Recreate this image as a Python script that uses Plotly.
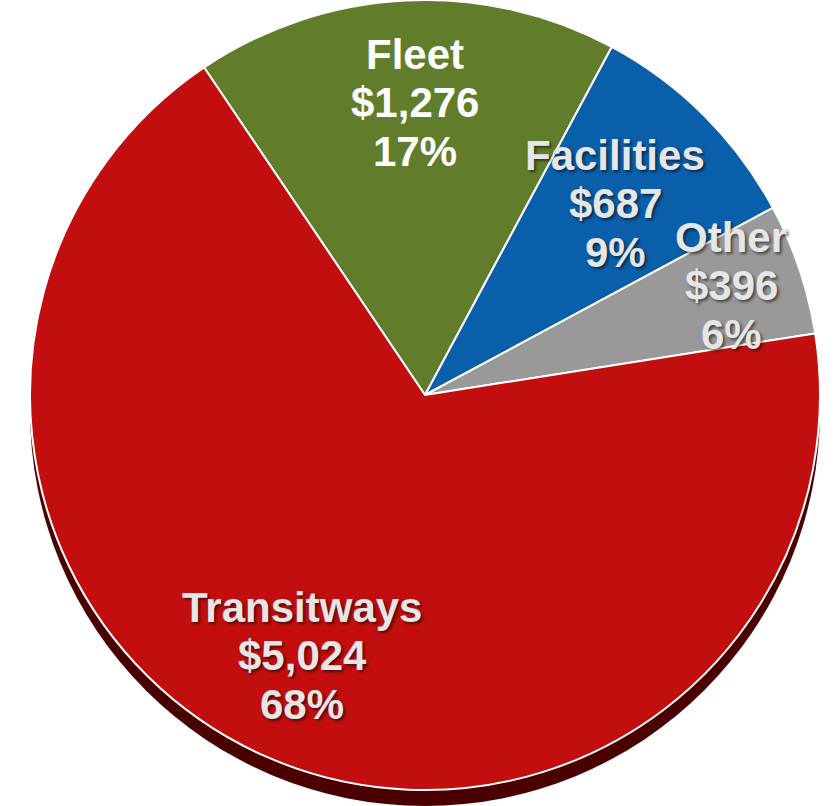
import plotly.graph_objects as go

# Capital program breakdown ($ millions)
categories = ["Fleet", "Facilities", "Other", "Transitways"]
amounts = [1276, 687, 396, 5024]
pct_labels = ["17%", "9%", "6%", "68%"]
slice_colors = ["#617d2b", "#0a5faa", "#999999", "#c20e0e"]

# label block centres (pixels from top-left) and text colours
label_x = [415, 615, 731, 302]
label_top_baseline = [69, 170, 252, 622]
label_colors = ["#ffffff", "#e6e6e6", "#e6e6e6", "#e6e6e6"]

W, H = 837, 806
FONT = "Liberation Sans, Arial, sans-serif"
FONT_SIZE = 42
LINE_GAP = 48.5

# pie geometry in pixels
cx, cy, r = 425, 395, 395
rim_drop = 16


def dom(cx, cy, r):
    return dict(x=[(cx - r) / W, (cx + r) / W],
                y=[max(0, 1 - (cy + r) / H), min(1, 1 - (cy - r) / H)])


fig = go.Figure()

# dark edge under the pie face, giving a thin 3D rim
fig.add_trace(go.Pie(
    values=[1], labels=["rim"], sort=False,
    marker=dict(colors=["#4a0000"], line=dict(width=0)),
    textinfo="none", hoverinfo="skip", showlegend=False,
    domain=dom(cx, cy + rim_drop, r),
))

fig.add_trace(go.Pie(
    values=amounts, labels=categories, sort=False,
    direction="clockwise", rotation=-34,
    marker=dict(colors=slice_colors, line=dict(color="#ffffff", width=2)),
    textinfo="none", showlegend=False,
    domain=dom(cx, cy, r),
))

annotations = []
for name, amt, pct, x, b0, col in zip(categories, amounts, pct_labels,
                                      label_x, label_top_baseline, label_colors):
    lines = [name, f"${amt:,}", pct]
    shadow = "none" if col == "#ffffff" else "2px 2px 3px rgba(0,0,0,0.55)"
    for i, t in enumerate(lines):
        baseline = b0 + i * LINE_GAP
        ymid = baseline - 0.35 * FONT_SIZE
        annotations.append(dict(
            x=x / W, y=1 - ymid / H, xref="paper", yref="paper",
            xanchor="center", yanchor="middle", showarrow=False,
            text=f"<b>{t}</b>",
            font=dict(family=FONT, size=FONT_SIZE, color=col, shadow=shadow),
        ))

fig.update_layout(
    width=W, height=H,
    margin=dict(l=0, r=0, t=0, b=0),
    paper_bgcolor="#ffffff", plot_bgcolor="#ffffff",
    annotations=annotations,
)

fig.write_html("out.html")
